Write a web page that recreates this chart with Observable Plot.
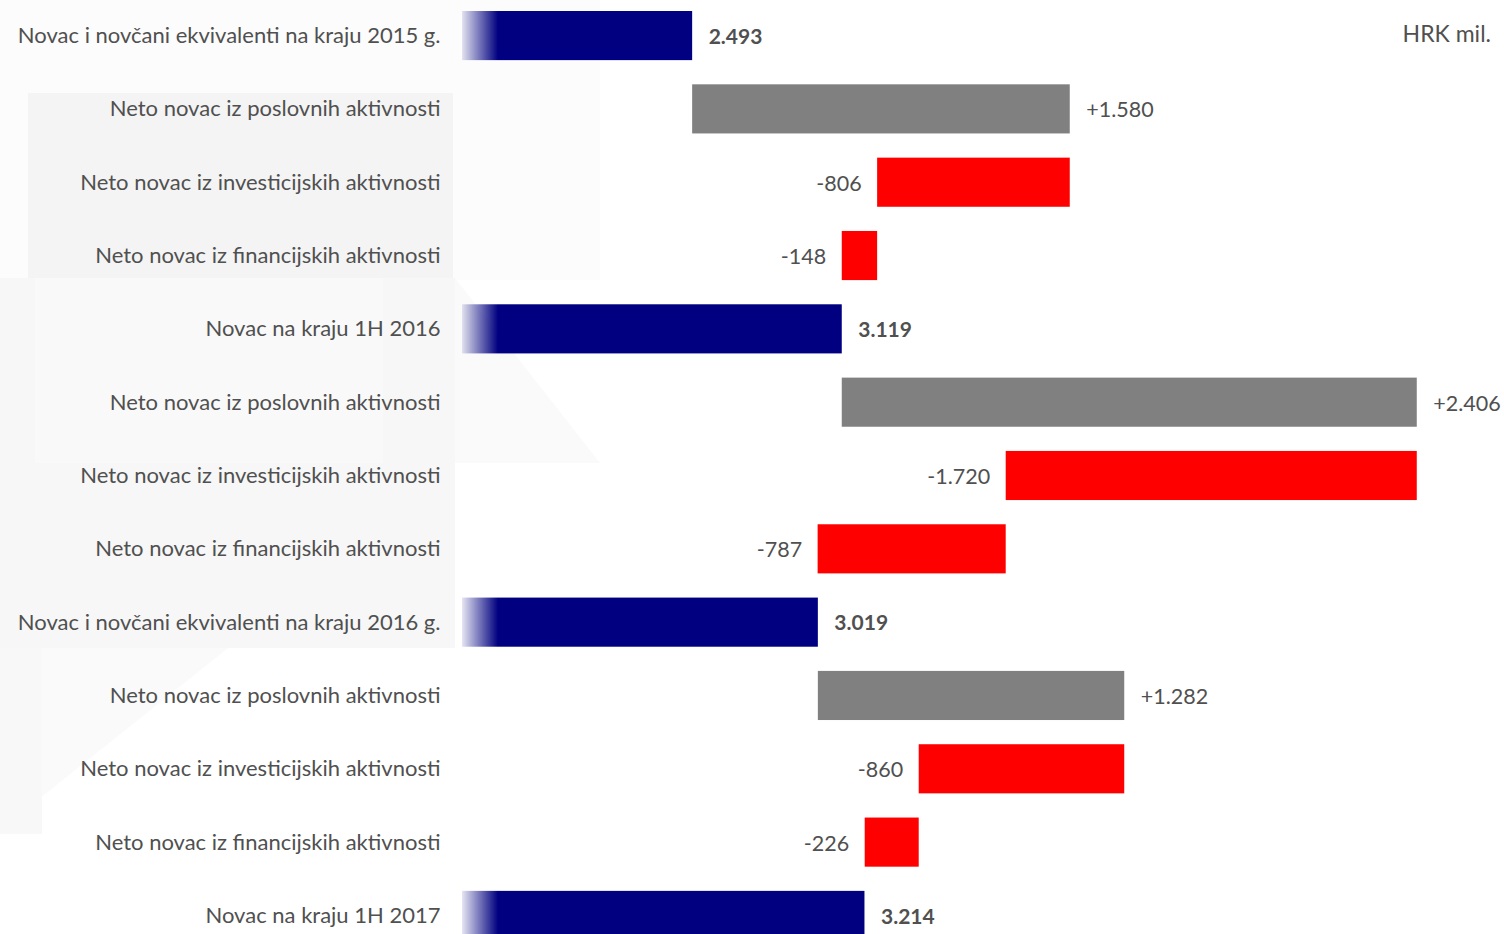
<!DOCTYPE html>
<html><head><meta charset="utf-8">
<script src="https://cdn.jsdelivr.net/npm/d3@7"></script>
<script src="https://cdn.jsdelivr.net/npm/@observablehq/plot@0.6"></script>
<style>
body{margin:0;background:#fff;}
#wrap{position:relative;width:1504px;height:934px;overflow:hidden;}
#unit{position:absolute;right:13px;top:19px;font-family:Lato,"Open Sans",sans-serif;font-size:23px;color:#505050;}
</style></head>
<body><div id="wrap"><div id="chart"></div><div id="unit">HRK mil.</div></div>
<script>
const categories = [
  "Novac i novčani ekvivalenti na kraju 2015 g.",
  "Neto novac iz poslovnih aktivnosti",
  "Neto novac iz investicijskih aktivnosti",
  "Neto novac iz financijskih aktivnosti",
  "Novac na kraju 1H 2016",
  "Neto novac iz poslovnih aktivnosti",
  "Neto novac iz investicijskih aktivnosti",
  "Neto novac iz financijskih aktivnosti",
  "Novac i novčani ekvivalenti na kraju 2016 g.",
  "Neto novac iz poslovnih aktivnosti",
  "Neto novac iz investicijskih aktivnosti",
  "Neto novac iz financijskih aktivnosti",
  "Novac na kraju 1H 2017"
];
const kinds = ["total","inc","dec","dec","total","inc","dec","dec","total","inc","dec","dec","total"];
const values = [2493, 1580, -806, -148, 3119, 2406, -1720, -787, 3019, 1282, -860, -226, 3214];
const labels = ["2.493","+1.580","-806","-148","3.119","+2.406","-1.720","-787","3.019","+1.282","-860","-226","3.214"];
const axisStart = 1530;

const rows = [];
let run = 0;
categories.forEach((c, i) => {
  const key = i + "|" + c;
  let x1, x2;
  if (kinds[i] === "total") { x1 = axisStart; x2 = values[i]; run = values[i]; }
  else { x1 = run; x2 = run + values[i]; run = x2; }
  rows.push({key, cat: c, kind: kinds[i], x1, x2, lo: Math.min(x1, x2), hi: Math.max(x1, x2), label: labels[i]});
});
const keys = rows.map(r => r.key);
const colorOf = {total: "url(#navyGrad)", inc: "#808080", dec: "#ff0000"};
const txt = "#505050";

const chart = Plot.plot({
  width: 1504, height: 934,
  marginLeft: 462, marginRight: 0, marginTop: 0, marginBottom: 0,
  style: {fontFamily: "Lato, 'Open Sans', sans-serif", background: "transparent", overflow: "visible"},
  x: {domain: [axisStart, 5890], axis: null},
  y: {domain: keys, range: [0, 951], round: false, paddingInner: 0.33, paddingOuter: 0.15, axis: null},
  marks: [
    Plot.barX(rows, {y: "key", x1: "x1", x2: "x2", fill: d => colorOf[d.kind]}),
    Plot.text(rows, {y: "key", x: axisStart, text: "cat", textAnchor: "end", dx: -22, dy: 0, fontSize: 22, fill: txt}),
    Plot.text(rows.filter(r => r.kind === "total"), {y: "key", x: "hi", text: "label", textAnchor: "start", dx: 16, dy: 1, fontSize: 21,
      fill: txt, fontWeight: "bold"}),
    Plot.text(rows.filter(r => r.kind === "inc"), {y: "key", x: "hi", text: "label", textAnchor: "start", dx: 16, dy: 1, fontSize: 21.5, fill: txt}),
    Plot.text(rows.filter(r => r.kind === "dec"), {y: "key", x: "lo", text: "label", textAnchor: "end", dx: -16, dy: 1, fontSize: 21.5, fill: txt})
  ]
});
const svg = d3.select(chart);
const defs = svg.insert("defs", ":first-child");
const g = defs.append("linearGradient").attr("id", "navyGrad").attr("gradientUnits", "userSpaceOnUse")
  .attr("x1", 458).attr("x2", 498).attr("y1", 0).attr("y2", 0);
g.append("stop").attr("offset", 0).attr("stop-color", "#000080").attr("stop-opacity", 0);
g.append("stop").attr("offset", 0.35).attr("stop-color", "#000080").attr("stop-opacity", 0.35);
g.append("stop").attr("offset", 1).attr("stop-color", "#000080").attr("stop-opacity", 1);
// faint decorative background shapes
const bg = svg.insert("g", "defs + *").attr("class", "bg");
bg.append("rect").attr("x", 0).attr("y", 0).attr("width", 600).attr("height", 280).attr("fill", "#fcfcfc");
bg.append("rect").attr("x", 28).attr("y", 93).attr("width", 425).attr("height", 185).attr("fill", "#f4f4f4");
bg.append("rect").attr("x", 0).attr("y", 278).attr("width", 455).attr("height", 185).attr("fill", "#f7f7f7");
bg.append("rect").attr("x", 35).attr("y", 278).attr("width", 348).attr("height", 185).attr("fill", "#f9f9f9");
bg.append("polygon").attr("points", "455,278 600,463 455,463").attr("fill", "#fafafa");
bg.append("rect").attr("x", 0).attr("y", 463).attr("width", 455).attr("height", 185).attr("fill", "#f7f7f7");
bg.append("polygon").attr("points", "0,648 228,648 0,830").attr("fill", "#fafafa");
bg.append("rect").attr("x", 0).attr("y", 648).attr("width", 42).attr("height", 186).attr("fill", "#f8f8f8");
document.getElementById("chart").appendChild(chart);
</script></body></html>
